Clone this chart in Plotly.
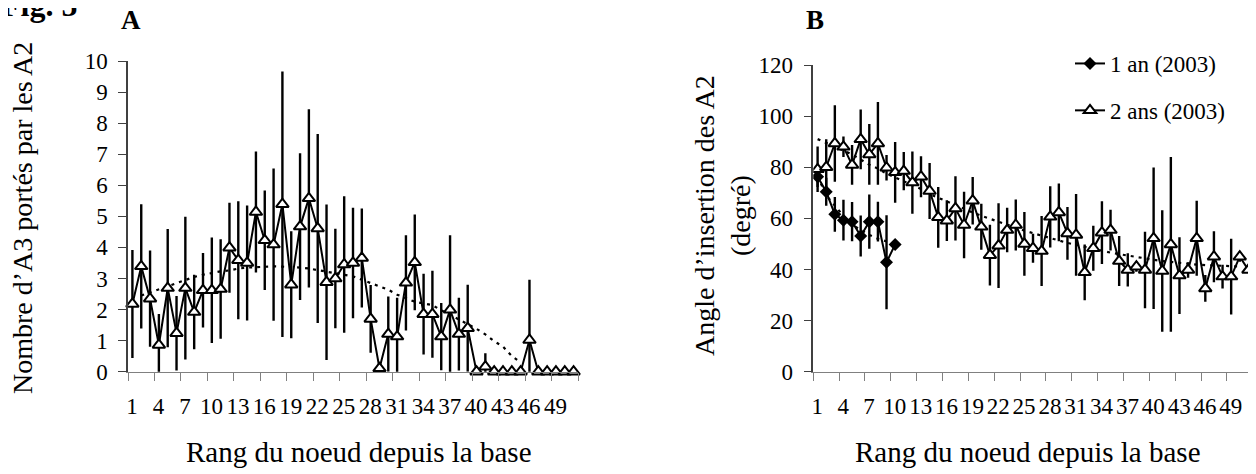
import plotly.graph_objects as go

# the page body has an 8 px margin, so the figure is drawn 8 px smaller
# and every position below is given in window pixels
OFF = 8
W, H = 1256 - OFF, 474 - OFF
FONT = "Liberation Serif, Times New Roman, serif"

# --- données ---
noeuds = list(range(1, 52))

# A : nombre d'A3 portés par les A2 (2 ans)
a3_moy = [2.18, 3.39, 2.35, 0.86, 2.69, 1.24, 2.69, 1.92, 2.62, 2.62,
          2.66, 3.99, 3.59, 3.50, 5.14, 4.23, 4.09, 5.39, 2.80, 4.67,
          5.58, 4.61, 2.88, 3.00, 3.45, 3.50, 3.66, 1.70, 0.11, 1.21,
          1.13, 2.86, 3.52, 1.85, 1.85, 1.13, 1.99, 1.21, 1.40, 0.0,
          0.16, 0.0, 0.0, 0.0, 0.0, 1.02, 0.0, 0.0, 0.0, 0.0, 0.0]
a3_err = [1.74, 2.0, 1.55, 1.0, 1.9, 1.2, 2.3, 1.2, 1.2, 1.7,
          1.6, 1.45, 1.9, 1.85, 1.95, 1.6, 2.45, 4.27, 1.72, 2.36,
          2.87, 3.04, 2.5, 1.6, 2.2, 1.78, 1.59, 1.09, 0.15, 1.21,
          1.25, 1.53, 1.54, 1.3, 1.4, 1.08, 2.4, 1.17, 1.4, 0.0,
          0.43, 0.0, 0.0, 0.0, 0.0, 1.94, 0.0, 0.0, 0.0, 0.0, 0.0]
a3_tend_x = list(range(2, 46))
a3_tend = [2.45, 2.55, 2.65, 2.75, 2.85, 2.95, 3.05, 3.12, 3.18, 3.23,
           3.26, 3.32, 3.35, 3.37, 3.39, 3.39, 3.38, 3.37, 3.35, 3.32,
           3.26, 3.22, 3.17, 3.12, 3.07, 2.96, 2.85, 2.76, 2.64, 2.48,
           2.36, 2.25, 2.20, 2.14, 1.98, 1.82, 1.68, 1.53, 1.38, 1.20,
           0.98, 0.81, 0.50, 0.30]

# B : angle d'insertion des A2
an1_x = list(range(1, 11))
an1_moy = [76.3, 70.4, 61.6, 59.3, 58.7, 53.1, 58.7, 58.7, 42.8, 49.8]
an1_err = [4.0, 5.5, 6.8, 8.0, 7.7, 8.0, 10.6, 7.8, 18.4, 0.0]
an1_tend = [76.5, 69.0, 65.0, 61.0, 57.5, 55.5, 53.5, 52.0, 51.0, 50.0]

an2_moy = [79.2, 80.0, 89.3, 88.0, 80.9, 90.9, 85.0, 89.3, 79.8, 78.0,
           78.5, 74.0, 76.3, 70.7, 60.4, 59.1, 63.9, 57.4, 66.9, 56.7,
           45.6, 49.3, 55.4, 57.4, 50.0, 48.3, 47.2, 60.6, 62.3, 54.1,
           53.5, 38.9, 48.3, 54.4, 55.4, 43.3, 39.8, 41.1, 39.8, 52.2,
           39.4, 49.8, 37.6, 39.8, 52.2, 32.6, 45.0, 37.2, 37.2, 45.0, 39.8]
an2_err = [8.9, 10.9, 15.0, 4.0, 7.8, 11.7, 11.9, 16.2, 5.0, 11.9,
           7.5, 12.2, 8.0, 11.0, 11.9, 8.0, 12.6, 13.0, 9.3, 9.0,
           11.9, 16.6, 8.7, 10.0, 12.5, 5.7, 13.7, 12.0, 11.3, 10.3,
           16.0, 10.9, 8.8, 12.3, 8.0, 9.8, 6.5, 2.0, 15.0, 27.7,
           23.8, 34.2, 15.0, 3.0, 14.7, 5.2, 10.0, 4.6, 14.8, 2.0, 0.0]
an2_tend_x = list(range(1, 51))
an2_tend = [91.0, 89.5, 88.0, 86.5, 85.0, 83.0, 81.0, 79.5, 77.5, 76.0,
            74.5, 73.0, 71.5, 69.5, 68.0, 66.5, 65.0, 63.5, 62.3, 61.0,
            59.8, 58.6, 57.4, 56.3, 55.2, 54.2, 53.2, 52.2, 51.3, 50.4,
            49.6, 48.8, 48.0, 47.3, 46.6, 46.0, 45.4, 44.8, 44.3, 43.8,
            43.3, 42.9, 42.5, 42.2, 41.9, 41.7, 41.5, 41.4, 41.3, 41.2]

x_ticks = [0.5 + 3 * k for k in range(18)]
x_labels = [str(1 + 3 * k) for k in range(17)] + [""]


def px_x(v):
    return (v - OFF) / W


def px_y(v):
    return 1 - (v - OFF) / H


fig = go.Figure()

err_style = dict(type="data", thickness=2.4, width=0, color="black")
tri = dict(symbol="triangle-up", size=11, color="white",
           line=dict(color="black", width=2))
dash_line = dict(color="black", width=2.2, dash="3px,5px")

# panel A
fig.add_trace(go.Scatter(x=a3_tend_x, y=a3_tend, mode="lines", line=dash_line,
                         showlegend=False, xaxis="x", yaxis="y", hoverinfo="skip"))
fig.add_trace(go.Scatter(x=noeuds, y=a3_moy, mode="lines+markers",
                         error_y=dict(array=a3_err, **err_style),
                         line=dict(color="black", width=2), marker=tri,
                         cliponaxis=False, showlegend=False, xaxis="x", yaxis="y"))

# panel B
fig.add_trace(go.Scatter(x=an1_x, y=an1_tend, mode="lines", line=dash_line,
                         showlegend=False, xaxis="x2", yaxis="y2", hoverinfo="skip"))
fig.add_trace(go.Scatter(x=an2_tend_x, y=an2_tend, mode="lines", line=dash_line,
                         showlegend=False, xaxis="x2", yaxis="y2", hoverinfo="skip"))
fig.add_trace(go.Scatter(x=an1_x, y=an1_moy, mode="lines+markers", name="1 an (2003)",
                         error_y=dict(array=an1_err, **err_style),
                         line=dict(color="black", width=2),
                         marker=dict(symbol="diamond", size=10, color="black"),
                         legendgroup="g1", xaxis="x2", yaxis="y2"))
fig.add_trace(go.Scatter(x=noeuds, y=an2_moy, mode="lines+markers", name="2 ans (2003)",
                         error_y=dict(array=an2_err, **err_style),
                         line=dict(color="black", width=2), marker=tri,
                         legendgroup="g2", xaxis="x2", yaxis="y2"))

xaxis_common = dict(range=[0.5, 51.5], tickmode="array", tickvals=x_ticks,
                    ticktext=x_labels, ticks="outside", ticklen=8, tickwidth=1.3,
                    tickcolor="#808080", showline=True, linecolor="#808080",
                    linewidth=1.3, showgrid=False, zeroline=False, automargin=False,
                    tickfont=dict(family=FONT, size=23, color="black"),
                    ticklabelstandoff=6, ticklabelshift=4, fixedrange=True)
yaxis_common = dict(ticks="outside", ticklen=8, tickwidth=1.3, tickcolor="#404040",
                    showline=True, linecolor="#404040", linewidth=1.5,
                    showgrid=False, zeroline=False, automargin=False,
                    tickfont=dict(family=FONT, size=23, color="black"),
                    ticklabelstandoff=6, fixedrange=True)

fig.update_layout(
    width=W, height=H,
    margin=dict(l=0, r=0, t=0, b=0, autoexpand=False),
    paper_bgcolor="white", plot_bgcolor="white",
    xaxis=dict(domain=[px_x(128), px_x(578)], anchor="y", **xaxis_common),
    yaxis=dict(domain=[px_y(371.7), px_y(61)], anchor="x", range=[0, 10],
               tickvals=list(range(0, 11)), **yaxis_common),
    xaxis2=dict(domain=[px_x(813.3), px_x(1252.7)], anchor="y2", **xaxis_common),
    yaxis2=dict(domain=[px_y(371.7), px_y(65)], anchor="x2", range=[0, 120],
                tickvals=list(range(0, 121, 20)), **yaxis_common),
    legend=dict(x=px_x(1070), y=px_y(42), xanchor="left", yanchor="top",
                font=dict(family=FONT, size=23, color="black"),
                bgcolor="rgba(0,0,0,0)", tracegroupgap=14, traceorder="grouped"),
    font=dict(family=FONT, color="black"),
)

ann = [
    dict(text="<b>Fig. 5</b>", x=px_x(-1), y=px_y(5), xanchor="left", yanchor="middle",
         font=dict(size=32)),
    dict(text="<b>A</b>", x=px_x(131), y=px_y(20), xanchor="center", yanchor="middle",
         font=dict(size=27)),
    dict(text="<b>B</b>", x=px_x(815), y=px_y(20), xanchor="center", yanchor="middle",
         font=dict(size=27)),
    dict(text="Nombre d’A3 portés par les A2", x=px_x(22), y=px_y(218), textangle=-90,
         xanchor="center", yanchor="middle", font=dict(size=28)),
    dict(text="Angle d’insertion des A2<br>(degré)", x=px_x(722), y=px_y(216),
         textangle=-90, xanchor="center", yanchor="middle", font=dict(size=28)),
    dict(text="Rang du noeud depuis la base", x=px_x(359), y=px_y(452),
         xanchor="center", yanchor="middle", font=dict(size=29)),
    dict(text="Rang du noeud depuis la base", x=px_x(1028), y=px_y(452),
         xanchor="center", yanchor="middle", font=dict(size=29)),
]
for a in ann:
    a.update(xref="paper", yref="paper", showarrow=False)
    a["font"].update(family=FONT, color="black")
    fig.add_annotation(**a)

fig.write_html("out.html")
